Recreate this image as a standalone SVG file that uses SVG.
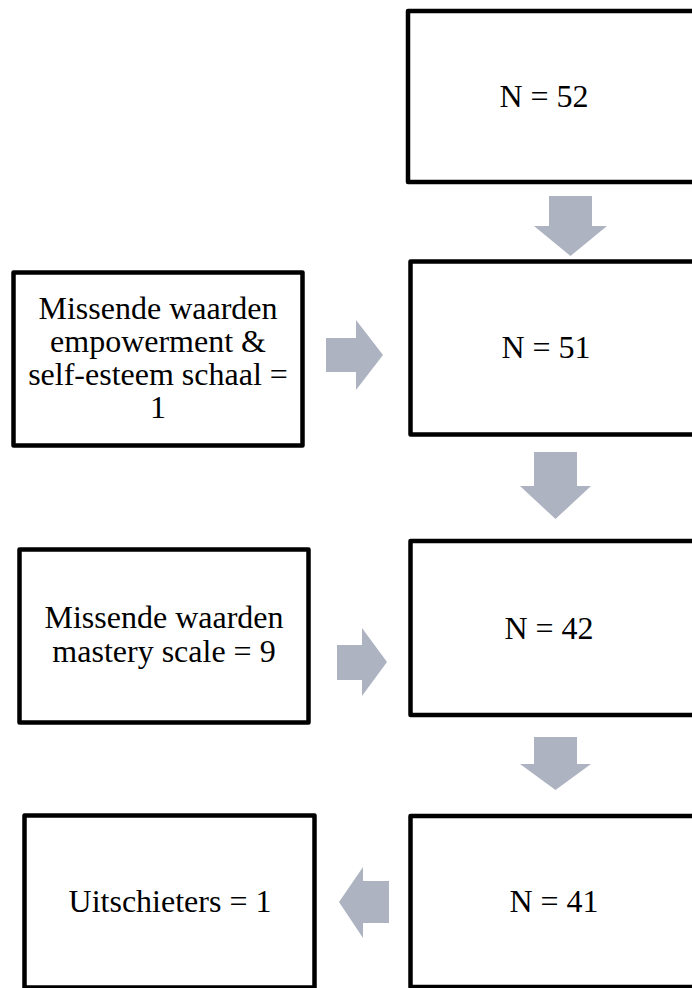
<svg xmlns="http://www.w3.org/2000/svg" width="692" height="988" viewBox="0 0 692 988">
<style>
.box{fill:#ffffff;stroke:#000000;stroke-width:4.5;stroke-linejoin:round}
.arr{fill:#ADB3C1;stroke:none}
.t{font-family:"Liberation Serif","Times New Roman",serif;font-size:32px;fill:#000000;text-anchor:middle}
</style>
<rect width="692" height="988" fill="#ffffff"/>
<g id="connectors">
<polygon class="arr" points="549,196 592,196 592,226 607,226 570.5,256 534,226 549,226"/>
<polygon class="arr" points="534,452 577,452 577,486 591,486 555.5,519 520,486 534,486"/>
<polygon class="arr" points="534,737 577,737 577,764 591,764 555.5,790 520,764 534,764"/>
<polygon class="arr" points="326,338 356,338 356,320 383,355 356,390 356,372 326,372"/>
<polygon class="arr" points="337,645 362,645 362,628 387,662 362,696 362,680 337,680"/>
<polygon class="arr" points="389,881 363,881 363,867 339,902 363,938 363,923 389,923"/>
</g>
<g id="n52">
<rect class="box" x="408" y="11" width="290" height="171"/>
<text class="t" x="544" y="107">N = 52</text>
</g>
<g id="n51">
<rect class="box" x="410.5" y="261.5" width="290" height="173"/>
<text class="t" x="546" y="358">N = 51</text>
</g>
<g id="n42">
<rect class="box" x="410.5" y="541" width="290" height="174"/>
<text class="t" x="549" y="639">N = 42</text>
</g>
<g id="n41">
<rect class="box" x="410.5" y="816" width="290" height="171"/>
<text class="t" x="554" y="912">N = 41</text>
</g>
<g id="missing1">
<rect class="box" x="13.5" y="272.5" width="289" height="173"/>
<text class="t" x="158" y="318.5">Missende waarden</text>
<text class="t" x="158" y="351.5">empowerment &amp;</text>
<text class="t" x="158" y="384.5">self-esteem schaal =</text>
<text class="t" x="158" y="417.5">1</text>
</g>
<g id="missing2">
<rect class="box" x="19.5" y="549.5" width="289" height="173"/>
<text class="t" x="164" y="628">Missende waarden</text>
<text class="t" x="164" y="662">mastery scale = 9</text>
</g>
<g id="outliers">
<rect class="box" x="24.5" y="815.5" width="290" height="172"/>
<text class="t" x="170" y="912">Uitschieters = 1</text>
</g>
</svg>
